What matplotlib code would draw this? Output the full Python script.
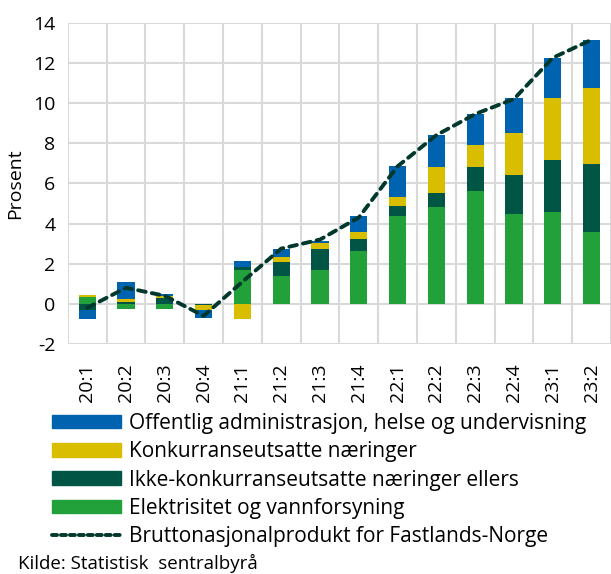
import numpy as np
import matplotlib
matplotlib.use('Agg')
from matplotlib import pyplot as plt
from matplotlib.patches import Patch
from matplotlib.lines import Line2D

plt.rcParams['font.family'] = ['Open Sans', 'DejaVu Sans']
plt.rcParams['axes.unicode_minus'] = False

# Bidrag til vekst per kvartal (prosent)
kvartaler = ['20:1', '20:2', '20:3', '20:4', '21:1', '21:2', '21:3',
             '21:4', '22:1', '22:2', '22:3', '22:4', '23:1', '23:2']
elektrisitet = [0.33, -0.25, -0.25, 0.0, 1.70, 1.39, 1.69, 2.64, 4.38, 4.81, 5.62, 4.48, 4.59, 3.57]
ikke_konk = [-0.30, 0.10, 0.30, -0.08, 0.13, 0.71, 1.03, 0.60, 0.50, 0.70, 1.21, 1.94, 2.57, 3.38]
konk = [0.11, 0.15, 0.10, -0.25, -0.75, 0.22, 0.30, 0.33, 0.46, 1.32, 1.06, 2.07, 3.10, 3.81]
offentlig = [-0.45, 0.83, 0.10, -0.38, 0.28, 0.41, 0.12, 0.81, 1.53, 1.58, 1.54, 1.74, 1.96, 2.37]
bnp_fastland = [-0.2, 0.8, 0.4, -0.6, 1.1, 2.75, 3.2, 4.3, 6.85, 8.4, 9.45, 10.2, 12.25, 13.15]

serier = [
    ('Elektrisitet og vannforsyning', elektrisitet, '#22a03a'),
    ('Ikke-konkurranseutsatte næringer ellers', ikke_konk, '#005545'),
    ('Konkurranseutsatte næringer', konk, '#d9be00'),
    ('Offentlig administrasjon, helse og undervisning', offentlig, '#0063b0'),
]
linjefarge = '#00382e'

fig = plt.figure(figsize=(6.11, 5.74), dpi=100)
ax = fig.add_axes([0.111, 0.4007, 0.889, 0.5598])

x = np.arange(len(kvartaler))
pos_bunn = np.zeros(len(x))
neg_bunn = np.zeros(len(x))
for navn, verdier, farge in serier:
    v = np.array(verdier)
    bunn = np.where(v >= 0, pos_bunn, neg_bunn)
    ax.bar(x, v, bottom=bunn, width=0.44, color=farge, linewidth=0, zorder=2)
    pos_bunn += np.where(v >= 0, v, 0)
    neg_bunn += np.where(v < 0, v, 0)

ax.plot(x, bnp_fastland, color=linjefarge, lw=2.8, linestyle=(0, (2.0, 1.6)),
        dash_capstyle='round', zorder=3)

ax.set_ylim(-2, 14)
ax.set_yticks(np.arange(-2, 15, 2))
ax.set_xlim(-0.5, 13.22)
ax.set_xticks(x)
ax.set_xticklabels(kvartaler, rotation=90, fontsize=14)
ax.set_xticks(np.arange(-0.5, 14, 1), minor=True)
ax.tick_params(axis='x', which='major', length=0, pad=14)
ax.tick_params(axis='x', which='minor', length=0)
ax.tick_params(axis='y', length=0, labelsize=14, pad=9)
ax.set_ylabel('Prosent', fontsize=14, labelpad=6)

ax.grid(True, axis='y', color='#d9d9d9', lw=1.5, zorder=0)
ax.grid(True, axis='x', which='minor', color='#d9d9d9', lw=1.5, zorder=0)
for s in ax.spines.values():
    s.set_visible(False)

handles = [Patch(color=f) for _, _, f in serier[::-1]]
labels = [n for n, _, _ in serier[::-1]]
handles.append(Line2D([], [], color=linjefarge, lw=2.8, linestyle=(0, (1.3, 1.0)),
                      dash_capstyle='round'))
labels.append('Bruttonasjonalprodukt for Fastlands-Norge')
fig.legend(handles, labels, loc='upper left', bbox_to_anchor=(0.072, 0.295),
           frameon=False, fontsize=15, handlelength=3.3, handleheight=0.63,
           handletextpad=0.38, labelspacing=0.35, borderaxespad=0)

fig.text(0.03, 0.008, 'Kilde: Statistisk  sentralbyrå', fontsize=13.5)

plt.savefig('out.png', dpi=100)
